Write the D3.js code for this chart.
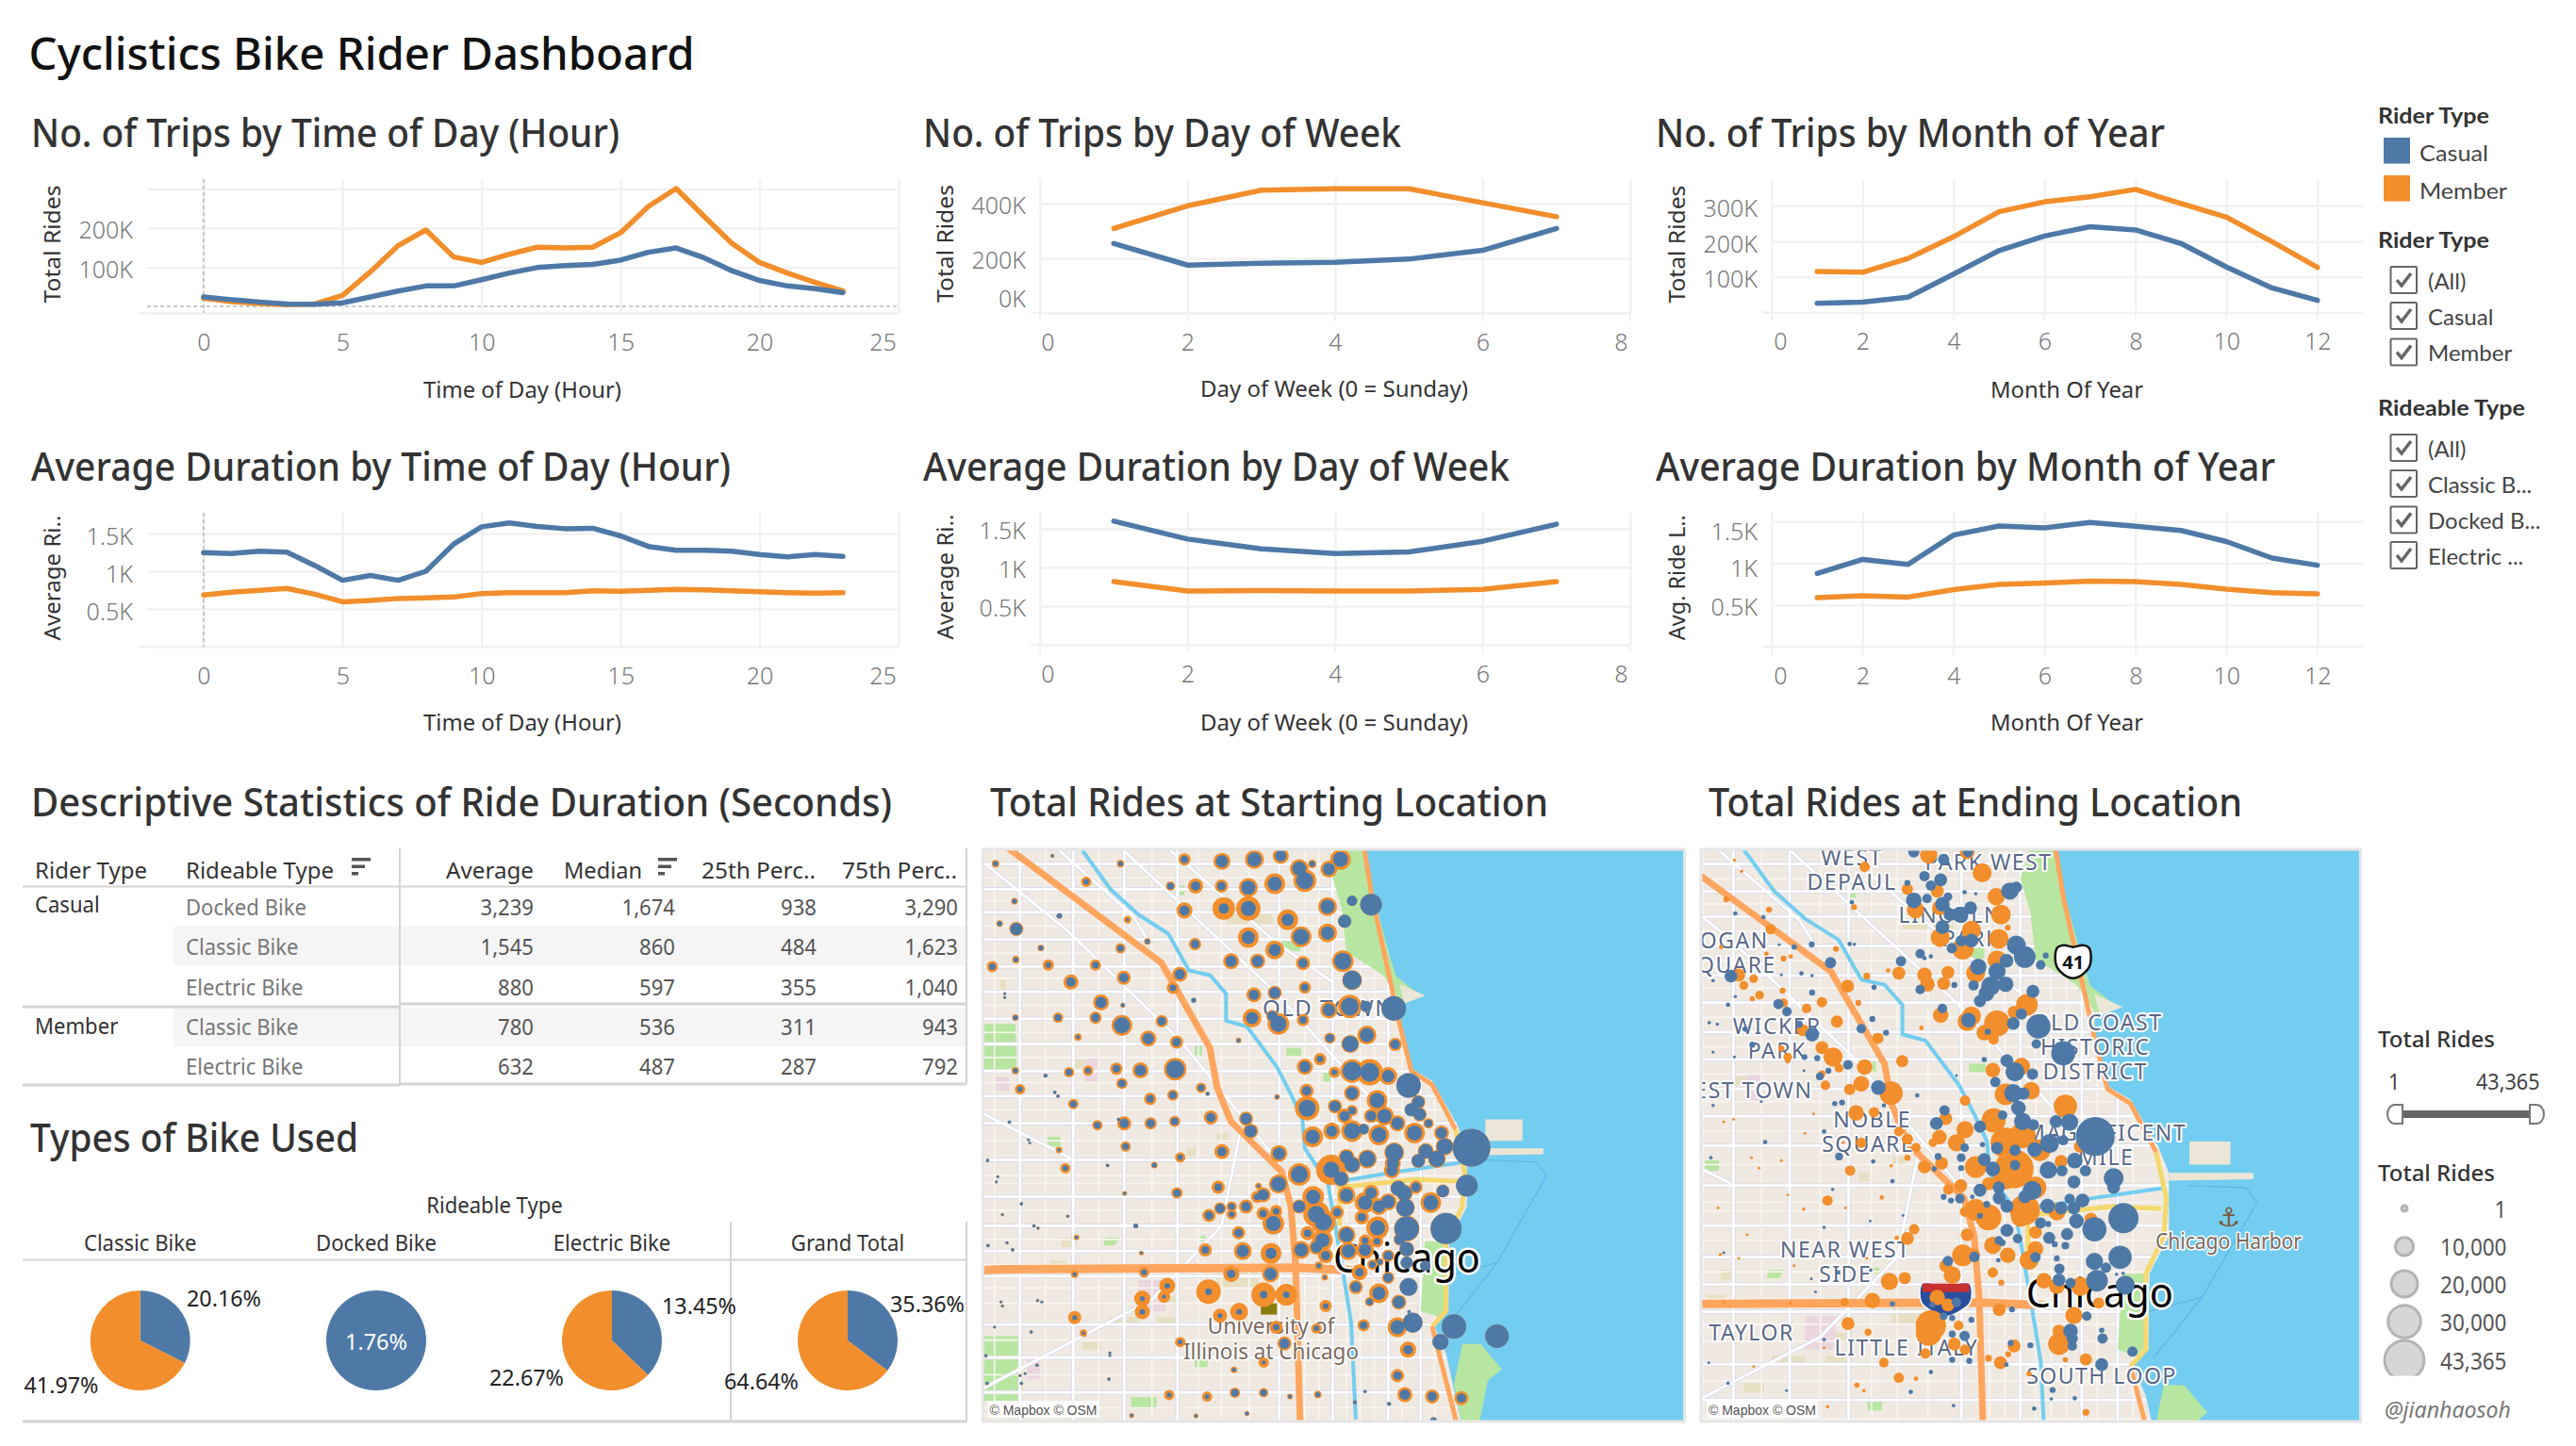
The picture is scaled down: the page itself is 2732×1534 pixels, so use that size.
<!DOCTYPE html>
<html><head><meta charset="utf-8"><script src="https://cdn.jsdelivr.net/npm/d3@7"></script>
<style>html,body{margin:0;padding:0;background:#fff}svg{display:block}text{font-family:"Noto Sans",sans-serif}</style></head>
<body><svg id="c" width="2732" height="1534"></svg>
<script>
// ---------- values ----------
const hours=d3.range(0,24), days=[1,2,3,4,5,6,7], months=d3.range(1,13);
const hourTripsCasual=[24,17,11,6,5,9,24,39,52,52,68,85,99,104,107,118,138,149,124,91,66,52,45,35].map(v=>v*1000);
const hourTripsMember=[21,12,7,4,6,28,88,155,195,126,112,133,151,149,151,188,255,301,230,161,112,85,61,39].map(v=>v*1000);
const hourDurCasual=[1247,1234,1266,1253,1076,880,943,880,1000,1361,1589,1640,1595,1564,1570,1469,1329,1279,1279,1266,1222,1190,1222,1196];
const hourDurMember=[684,722,747,772,696,595,614,639,646,658,703,715,715,715,741,734,747,760,753,741,728,715,709,715];
const dayTripsCasual=[254000,175000,182000,185000,197000,229000,309000];
const dayTripsMember=[309000,392000,449000,454000,454000,403000,352000];
const dayDurCasual=[1599,1367,1240,1179,1201,1339,1560];
const dayDurMember=[816,695,700,695,695,717,816];
const monthTripsCasual=[26,29,43,108,174,215,241,232,194,128,69,34].map(v=>v*1000);
const monthTripsMember=[115,113,152,213,283,311,325,346,306,268,199,127].map(v=>v*1000);
const monthDurCasual=[879,1047,988,1340,1449,1426,1492,1445,1395,1262,1063,977];
const monthDurMember=[586,609,594,684,746,762,785,781,746,688,648,633];
const tableRows=[["Docked Bike","3,239","1,674","938","3,290"],["Classic Bike","1,545","860","484","1,623"],["Electric Bike","880","597","355","1,040"],["Classic Bike","780","536","311","943"],["Electric Bike","632","487","287","792"]];
const pieNames=["Classic Bike","Docked Bike","Electric Bike","Grand Total"];
const pieCasual=[20.16,1.76,13.45,35.36];
const pieMember=[41.97,0,22.67,64.64];
const sizeLegend=[1,10000,20000,30000,43365];
// station grid position (east, south) and rides in hundreds: casual, member
const startStations=[[32,64,6,14],[155,44,3,4],[302,64,6,14],[440,53,14,38],[521,58,38,73],[591,53,50,90],[648,44,32,65],[716,65,8,18],[688,77,50,90],[777,53,57,108],[752,78,38,73],[700,108,73,129],
[228,111,8,27],[410,122,11,22],[464,122,22,57],[520,122,18,44],[578,126,50,90],[635,116,50,108],
[73,161,6,11],[440,185,27,65],[525,180,27,129],[578,180,57,151],[749,175,50,90],[802,160,27,27],[843,170,118,118],
[170,199,8,8],[317,209,3,14],[41,219,6,11],[77,233,38,50],[663,209,38,108],[786,213,44,44],
[578,255,44,108],[692,253,65,108],[749,243,44,90],[360,265,6,11],[463,272,18,38],[130,282,6,11],[302,283,11,27],[635,287,38,90],
[76,312,6,14],[146,326,8,32],[248,326,11,32],[25,330,11,32],[541,316,32,65],[598,316,32,57],[696,321,22,50],[782,316,73,118],[430,350,27,57],[802,365,90,99],
[195,370,22,57],[309,359,22,50],[415,385,11,38],[700,384,14,38],[590,403,27,57],[635,398,32,50],
[52,400,2,2],[52,410,2,2],[260,423,32,65],[307,430,4,6],[460,417,6,6],[752,442,38,73],[797,433,81,140],[832,433,32,32],[892,438,151,151],
[75,462,6,11],[167,462,11,27],[248,462,18,38],[391,471,18,38],[305,482,65,108],[586,463,38,90],[630,458,27,38],[643,478,65,118],[696,468,14,38],
[210,512,4,14],[362,516,32,65],[423,525,18,44],[557,521,4,8],[754,515,18,32],[834,507,50,90],[798,530,65,81],[895,531,22,44],
[733,569,11,38],[75,599,6,14],[140,612,4,4],[191,603,11,27],[232,599,8,27],[293,594,14,38],[345,598,32,65],[420,595,81,129],[700,589,32,65],[764,603,8,32],[802,600,90,140],[840,603,90,176],[880,613,38,81],[924,637,151,151],
[305,632,14,32],[85,647,8,27],[160,655,3,3],[167,665,3,3],[476,643,11,27],[490,659,4,4],[640,667,4,8],[704,651,22,50],[802,657,38,65],[366,672,14,38],[415,662,14,32],
[200,685,11,27],[705,696,73,151],[765,691,32,50],[856,676,57,108],[945,680,38,50],[298,725,3,3],[310,735,22,50],[62,732,3,3],[252,740,11,27],[367,735,18,38],[419,730,14,32],[497,720,22,50],[573,723,32,50],[786,716,27,57],[802,702,14,32],[843,716,27,50],[872,716,50,90],[930,700,44,44],[948,712,38,50],
[583,755,38,57],[900,735,38,65],[967,735,14,27],[717,770,50,108],[758,755,32,73],[802,755,65,118],[827,750,27,32],[860,765,57,108],[937,760,57,108],[995,760,32,57],[103,778,2,2],[106,786,2,2],
[313,795,11,27],[169,804,3,11],[521,808,22,57],[644,813,38,73],[1060,798,358,358],[1002,795,65,81],[893,810,81,99],[790,822,44,65],[961,807,50,65],
[15,831,3,3],[431,823,8,27],[274,844,3,3],[375,843,6,11],[183,851,8,27],[835,827,65,90],[945,832,44,50],[985,827,65,81],[757,855,65,229],[802,842,57,73],[890,838,38,65],[888,857,32,65],[688,867,73,129],
[37,873,2,2],[34,887,2,2],[778,878,50,65],[643,892,57,90],[513,900,14,44],[600,897,3,11],[1050,896,118,118],
[311,916,3,6],[424,915,14,32],[610,920,32,57],[597,925,11,38],[718,925,50,118],[790,921,44,81],[843,915,32,65],[902,903,57,65],[940,900,22,44],[998,910,38,44],[915,915,57,73],
[88,943,3,3],[517,955,22,38],[542,950,11,27],[573,950,22,50],[688,950,38,50],[830,940,50,108],[860,950,38,73],[880,938,44,73],[972,940,57,108],[917,953,81,90],
[47,971,2,3],[188,975,2,3],[493,973,18,44],[542,970,8,27],[610,968,14,44],[638,962,11,38],[770,965,18,44],[725,970,73,176],[823,978,18,50],
[115,1000,3,3],[124,1006,2,3],[335,1000,6,6],[632,994,57,118],[740,990,73,151],[857,1005,57,129],[920,1007,151,163],[1005,1007,244,244],
[207,1030,3,8],[557,1018,18,44],[706,1019,14,50],[790,1023,50,81],[738,1037,50,108],[830,1038,11,38],[856,1040,11,38],[905,1035,32,38],
[57,1044,2,3],[16,1051,3,3],[69,1062,3,3],[485,1062,14,44],[566,1065,38,81],[627,1071,32,108],[692,1062,44,81],[725,1055,32,57],[794,1065,44,81],[830,1062,38,81],[920,1060,50,57],
[347,1070,2,6],[745,1077,22,57],[880,1077,22,38],[730,1103,6,18],[846,1100,11,27],[862,1093,8,14],[920,1095,38,38],[960,1103,27,27],
[203,1125,4,14],[353,1120,8,27],[541,1124,18,65],[626,1124,38,73],[818,1120,18,65],[743,1133,3,11],[880,1134,22,38],
[403,1155,8,65],[492,1170,11,151],[611,1178,14,151],[660,1178,11,118],[810,1158,27,50],[860,1174,44,99],[924,1158,81,81],
[349,1188,6,65],[396,1183,4,38],[123,1193,2,3],[132,1197,2,2],[44,1197,2,2],[47,1207,2,3],[840,1196,11,22],[903,1197,38,57],[745,1207,8,38],
[349,1222,8,57],[203,1237,6,44],[517,1232,6,50],[558,1222,8,81],[925,1222,3,3],[933,1250,99,99],[900,1262,50,99],[1022,1260,151,151],[827,1257,14,38],[638,1262,11,44],[725,1265,8,27],
[30,1262,2,2],[222,1277,3,14],[109,1274,3,3],[993,1300,65,65],[1115,1285,140,140],[431,1300,6,27],[656,1304,27,50],[279,1335,2,2],[279,1328,2,2],[923,1320,22,65],
[11,1336,3,3],[122,1360,3,3],[611,1353,4,27],[547,1372,4,11],[900,1387,18,44],[277,1396,3,3],[96,1382,2,2],[85,1387,2,3],[88,1407,3,3],[14,1407,3,3],
[407,1437,6,27],[489,1441,6,27],[549,1431,14,27],[611,1431,11,22],[668,1441,4,8],[728,1436,6,14],[830,1428,3,3],[808,1456,4,4],[882,1460,4,4],[916,1436,27,57],[975,1441,22,50],[1038,1445,22,50],[575,1485,4,6],[465,1491,3,6],[326,1490,3,6],[978,1503,11,11]];
// ending stations: east, south, rides in hundreds
const endMember=[[370,50,27],[645,66,91],[520,18,75],[610,10,54],[65,32,3],[82,62,3],[470,110,32],[540,115,42],[678,130,75],[489,165,75],[545,160,54],[689,178,99],[46,137,9],[146,165,9],[345,158,9],[150,217,27],[705,213,9],
[620,220,91],[547,240,91],[684,243,99],[600,270,118],[303,270,9],[34,265,5],[180,296,9],[197,290,5],[140,283,5],[680,300,91],[630,335,91],[565,333,42],[510,340,54],[450,335,42],[425,328,5],[375,343,12],[517,365,54],[555,363,42],[330,370,42],[75,340,42],[87,368,19],[110,350,19],[124,394,19],[107,404,7],[178,382,9],[270,413,27],[234,430,23],[180,415,19],[355,415,9],[750,420,118],[720,440,42],[548,448,61],[620,450,91],[610,465,91],[680,470,169],[650,495,61],[672,513,27],[305,465,37],[225,488,37],[190,560,19],[175,537,9],[270,535,42],[296,560,91],[310,590,19],[190,570,7],[401,510,32],[420,497,3],[503,482,5],[370,587,61],[458,571,37],[270,605,12],[278,636,23],[362,632,61],[335,647,32],[432,657,137],[737,585,75],[670,595,54],[760,650,75],[700,660,118],[605,677,27],[840,692,137],[350,710,61],[392,708,27],[672,730,147],[560,725,42],[605,755,75],[450,760,23],[470,780,32],[490,803,23],[545,775,54],[585,790,75],[530,790,19],[362,790,27],[875,800,42],[510,855,42],[550,845,42],[470,830,9],[336,865,27],[630,855,118],[700,790,230],[740,770,169],[720,860,381],[780,810,118],[830,840,42],[770,910,118],[700,880,169],[595,905,42],[566,915,27],[283,945,27],[660,900,42],[630,970,118],[660,990,169],[605,975,27],[745,970,230],[820,975,75],[735,990,91],[900,995,42],[486,1022,27],[470,1047,42],[610,1037,42],[670,1065,75],[705,1092,61],[600,1092,118],[625,1090,42],[770,1030,42],[770,1075,61],[755,1105,91],[560,1120,42],[575,1145,75],[428,1162,75],[464,1153,37],[670,1138,27],[690,1165,9],[790,1160,61],[820,1175,61],[875,1175,91],[918,1220,32],[388,1213,61],[323,1217,15],[540,1205,61],[565,1225,42],[685,1238,42],[860,1253,75],[331,1275,42],[378,1298,12],[525,1280,230],[520,1300,169],[590,1280,23],[720,1335,42],[825,1330,118],[825,1295,42],[660,1368,12],[688,1380,42],[706,1357,9],[888,1371,37],[605,1345,27],[580,1330,42],[512,1355,27],[415,1380,23],[840,1372,7],[450,1420,27],[490,1423,5],[352,1440,7],[368,1455,3],[888,1513,12],[283,1498,3],[755,1410,7],
[63,727,2],[40,734,2],[105,830,2],[123,858,2],[175,838,2],[250,713,2],[230,765,2],[320,790,2],[432,852,3],[410,937,5],[190,930,2],[227,968,3],[325,965,2],[27,965,2],[95,1037,2],[32,1090,3],[75,1100,2],[205,1120,2],[197,1220,2],[40,1218,2],[275,1340,2],[110,1390,2],[445,1045,5],[375,1100,2],[385,1130,2]];
const endCasual=[[485,10,32],[555,30,32],[612,10,27],[510,75,27],[548,85,42],[525,100,27],[470,93,9],[604,118,5],[630,122,3],[710,115,75],[725,105,32],[485,140,61],[516,135,23],[565,130,19],[552,150,54],[618,160,42],[570,178,42],[592,178,61],[340,145,5],[67,175,5],[133,185,5],[552,212,48],[620,248,48],[596,248,32],[574,268,27],[725,260,91],[745,292,118],[782,313,23],[794,288,9],[500,283,23],[510,295,5],[455,303,27],[525,290,5],[702,302,48],[636,318,68],[680,330,75],[700,365,61],[665,370,91],[655,390,61],[640,410,37],[625,368,27],[764,384,42],[500,379,23],[580,367,9],[392,373,7],[290,307,32],[246,258,9],[205,265,7],[335,257,5],[346,258,3],[170,259,2],[222,336,5],[247,342,3],[57,343,42],[15,355,3],[175,340,2],[247,387,9],[50,420,5],[67,398,3],[168,418,27],[188,438,23],[552,430,23],[388,458,9],[362,484,23],[420,495,9],[613,461,54],[737,445,32],[718,470,42],[658,492,9],[777,478,147],[772,525,23],[835,550,147],[6,468,3],[25,472,3],[90,485,7],[217,472,12],[247,500,48],[107,527,9],[229,560,9],[259,563,9],[15,547,2],[331,581,23],[285,597,9],[265,612,15],[228,597,2],[402,642,54],[676,627,27],[703,570,42],[722,600,91],[763,606,32],[650,567,7],[585,610,2],[718,657,83],[742,658,37],[730,697,54],[493,663,5],[557,703,27],[538,738,42],[640,747,37],[693,716,23],[740,733,75],[765,742,32],[818,733,42],[850,735,75],[910,773,381],[803,792,91],[835,783,27],[604,803,19],[680,804,37],[646,795,7],[768,808,54],[722,810,32],[722,850,27],[650,835,42],[670,860,54],[596,830,19],[542,827,12],[533,860,7],[596,858,9],[862,838,61],[887,865,32],[800,863,75],[832,865,32],[860,895,42],[953,885,99],[953,910,42],[762,918,91],[745,935,42],[684,910,37],[640,917,42],[685,938,42],[703,960,42],[656,955,12],[622,935,5],[555,935,9],[572,945,9],[593,940,23],[798,960,54],[830,965,42],[850,940,27],[880,945,48],[860,965,42],[976,992,230],[908,1022,147],[866,1000,54],[782,1005,32],[800,1008,9],[640,986,9],[703,1025,42],[844,1035,37],[728,1047,23],[684,1052,19],[692,1058,12],[802,1045,37],[815,1062,9],[840,1066,15],[968,1097,137],[908,1108,75],[935,1125,27],[820,1100,9],[826,1128,27],[770,1097,27],[683,1105,5],[627,1096,27],[565,1107,27],[914,1160,118],[980,1172,91],[825,1158,42],[852,1166,27],[960,1143,3],[975,1140,3],[245,1155,2],[308,1138,5],[384,1132,3],[890,1255,23],[715,1237,9],[585,1218,23],[555,1255,15],[528,1225,9],[620,1265,9],[575,1260,9],[435,1222,7],[255,1190,2],[575,1303,12],[604,1308,27],[852,1295,54],[856,1315,32],[856,1335,23],[925,1293,7],[927,1315,27],[712,1327,9],[758,1333,9],[997,1350,27],[575,1372,9],[615,1375,9],[925,1385,42],[275,1318,3],[702,1385,5],[525,1405,5],[810,1453,9],[807,1477,3],[478,1458,5],[862,1475,5],[578,1495,3],[767,1503,5],[50,1435,3],[187,1455,2],[137,788,5],[10,830,3],[5,1380,2],[390,840,5],[310,827,15],[275,760,5],[300,685,7],[317,682,9],[415,690,5],[128,680,2],[65,560,2],[15,690,3],[435,893,5],[295,915,3],[460,985,2],[275,1017,3],[383,1000,2],[40,1085,2]];
// base map, in the same east/south grid as the starting stations
const lakeShore=[[825,0],[842,130],[880,290],[905,405],[905,490],[925,590],[975,625],[1030,740],[1050,800],[1050,950],[1012,1040],[1010,1220],[980,1260],[1005,1330],[1040,1520],[1600,1520],[1600,0]];
const parks=[[[785,0],[825,0],[845,130],[880,290],[897,355],[950,405],[912,428],[870,352],[790,292],[780,180],[760,100]],[[960,1040],[1008,1040],[1008,1200],[990,1235],[950,1220]],[[1040,1305],[1080,1305],[1125,1370],[1095,1400],[1075,1520],[1040,1520],[1022,1410]],[[5,478],[75,478],[78,592],[5,600]],[[5,1285],[90,1285],[90,1452],[5,1452]],[[145,770],[172,770],[172,795],[145,795]],[[462,525],[478,525],[478,560],[462,560]],[[660,540],[692,540],[692,560],[660,560]],[[740,600],[755,600],[755,630],[740,630]],[[325,1443],[380,1443],[380,1472],[325,1472]],[[420,120],[440,120],[440,145],[420,145]],[[650,260],[690,260],[690,290],[650,290]],[[462,1340],[490,1340],[490,1365],[462,1365]],[[270,1030],[300,1030],[290,1050],[265,1050]],[[120,1125],[145,1125],[145,1135],[120,1135]],[[475,1025],[485,1025],[485,1040],[475,1040]]];
const blocks=[[[530,190],[630,190],[630,220],[530,220]],[[275,1235],[340,1235],[340,1255],[275,1255]],[[380,1235],[430,1235],[430,1260],[380,1260]],[[175,1030],[200,1030],[200,1055],[175,1055]],[[510,1120],[600,1120],[600,1160],[510,1160]],[[42,365],[55,365],[55,392],[42,392]],[[510,760],[535,760],[535,780],[510,780]],[[445,800],[465,800],[465,820],[445,820]],[[200,570],[225,570],[225,592],[200,592]],[[400,1180],[430,1180],[430,1200],[400,1200]],[[220,1300],[260,1300],[260,1320],[220,1320]],[[150,1090],[185,1090],[185,1105],[150,1105]]];
const pinks=[[[225,565],[253,565],[253,630],[225,630]],[[30,615],[62,615],[62,650],[30,650]],[[340,1140],[400,1140],[400,1220],[340,1220]],[[100,1335],[128,1335],[128,1395],[100,1395]]];
const piers=[[[1090,725],[1170,725],[1170,780],[1090,780]],[[1050,800],[1215,800],[1215,815],[1050,818]],[[905,375],[960,405],[915,425]]];
const streetEast=[85,200,310,425,645,760,880,950];
const streetSouth=[65,130,190,260,330,395,465,530,600,665,735,830,925,1000,1065,1130,1255,1340,1430];
const minorEast=[30,140,255,370,470,520,580,700,730,790,820,850,910,980];
const minorSouth=[100,160,225,295,360,430,500,565,630,700,780,870,890,960,1035,1100,1160,1200,1295,1385,1470];
const diagonals=[[[300,20],[640,400],[880,720]],[[5,60],[190,240],[430,520],[640,830]],[[5,710],[195,825]],[[5,1420],[370,1190],[520,1000],[560,760]],[[160,20],[330,200],[360,260]],[[400,20],[640,270],[760,370]]];
const rivers=[[[220,30],[280,130],[340,195],[405,245],[450,340],[495,352],[530,400],[530,470],[575,485],[640,590]],[[640,590],[670,660],[695,725],[700,800],[750,890],[780,1100],[800,1250],[810,1500]],[[750,890],[900,860],[1045,835]]];
const harborLines=[[[1085,830],[1200,835],[1222,870],[1115,1095],[1020,1240]],[[1115,1095],[1010,1130]]];
const expressways=[[[55,20],[390,320],[495,540],[510,640],[540,730],[650,860],[670,950],[680,1100],[690,1520]]];
const ike=[[[-100,1120],[50,1112],[680,1108],[810,1115]]];
const shoreDriveN=[[[825,0],[845,150],[905,480],[930,600],[975,635],[1025,750]],[[975,1260],[1030,1520]]];
const shoreDriveY=[[[1025,750],[1045,860],[1040,950],[1005,1040],[1005,1220],[975,1260]],[[775,1000],[775,900],[940,880],[1035,885]]];

// ---------- drawing ----------
const svg=d3.select("#c");
const BLUE="#4e79a7",ORANGE="#f28e2b";
function T(p,o){
  const t=p.append("text").text(o.t).attr("x",o.x).attr("y",o.y)
    .attr("font-size",o.s||24).attr("fill",o.c||"#333").attr("font-weight",o.b||400)
    .attr("text-anchor",o.a||"start").attr("dominant-baseline",o.base?"auto":"central");
  if(o.f)t.style("font-family",o.f);
  if(o.i)t.attr("font-style","italic");
  if(o.ls)t.attr("letter-spacing",o.ls);
  if(o.r)t.attr("transform",`rotate(${o.r} ${o.x} ${o.y})`);
  if(o.h)t.attr("stroke","#fff").attr("stroke-width",o.h).attr("paint-order","stroke").attr("stroke-linejoin","round");
  if(o.w)t.attr("textLength",o.w).attr("lengthAdjust","spacingAndGlyphs");
  else if(o.k)t.attr("textLength",t.node().getComputedTextLength()*o.k).attr("lengthAdjust","spacingAndGlyphs");
  return t;
}
T(svg,{t:"Cyclistics Bike Rider Dashboard",x:30.6,y:74,s:48,w:706,c:"#111",b:500,base:1});
const heads=[["No. of Trips by Time of Day (Hour)",33,155.6,624],["No. of Trips by Day of Week",979,155.6,507],["No. of Trips by Month of Year",1756,155.6,540],
["Average Duration by Time of Day (Hour)",33,510,742],["Average Duration by Day of Week",979,510,622],["Average Duration by Month of Year",1756,510,657],
["Descriptive Statistics of Ride Duration (Seconds)",33,866,913],["Total Rides at Starting Location",1050,866,592],["Total Rides at Ending Location",1812,866,566],["Types of Bike Used",32,1222,348]];
heads.forEach(h=>T(svg,{t:h[0],x:h[1],y:h[2],s:42,w:h[3],c:"#333",b:500,base:1}));

function chart(o){
  const g=svg.append("g");
  const x=d3.scaleLinear().domain(o.xd).range([o.l,o.r]);
  const y=d3.scaleLinear().domain(o.yd).range([o.b,o.t]);
  const gx=g.append("g").attr("transform",`translate(0,${o.b})`)
    .call(d3.axisBottom(x).tickValues(o.xt).tickSize(-(o.b-o.t)).tickPadding(22).tickFormat(d3.format("d")));
  const gy=g.append("g").attr("transform",`translate(${o.l},0)`)
    .call(d3.axisLeft(y).tickValues(o.yt).tickSize(-(o.r-o.l)).tickPadding(15).tickFormat(o.yf));
  [gx,gy].forEach(a=>{a.select(".domain").remove();
    a.selectAll("line").attr("stroke","#f1f1f1").attr("stroke-width",2.5);
    a.selectAll("text").attr("fill","#777").attr("font-size",25).attr("font-weight",300).style("font-family",'"Noto Sans"');});
  gx.selectAll(".tick text").attr("dy","0.71em");
  gx.selectAll(".tick text").attr("dx",d=>d===o.xd[0]&&o.shift?o.shift:(o.endShift&&d===o.xt[o.xt.length-1]?o.endShift:0));
  gy.selectAll(".tick text").attr("transform",d=>`translate(0,${3+((o.ydy&&o.ydy[d])||0)})`);
  if(o.stub) g.append("g").selectAll("line").data(o.xt).join("line").attr("x1",d=>x(d)).attr("x2",d=>x(d)).attr("y1",o.b).attr("y2",o.b+9).attr("stroke","#f1f1f1").attr("stroke-width",2);
  g.append("line").attr("x1",o.l-10).attr("x2",o.l).attr("y1",o.b).attr("y2",o.b).attr("stroke","#f1f1f1").attr("stroke-width",2.5);
  if(o.vz) g.append("line").attr("x1",x(0)).attr("x2",x(0)).attr("y1",o.t).attr("y2",o.b).attr("stroke","#bbb").attr("stroke-width",1.6).attr("stroke-dasharray","4 3");
  if(o.hz) g.append("line").attr("x1",o.l).attr("x2",o.r).attr("y1",y(0)).attr("y2",y(0)).attr("stroke","#bbb").attr("stroke-width",1.6).attr("stroke-dasharray","4 3");
  const line=d3.line().x(d=>x(d[0])).y(d=>y(d[1]));
  o.series.forEach(s=>g.append("path").attr("d",line(o.xs.map((v,i)=>[v,s.v[i]]))).attr("fill","none").attr("stroke",s.c).attr("stroke-width",5.5).attr("stroke-linejoin","round").attr("stroke-linecap","round"));
  T(g,{t:o.yl,x:o.ylx,y:(o.t+o.b)/2-2,s:24,a:"middle",r:-90,w:o.ylw,c:"#333"});
  T(g,{t:o.xl,x:o.xlx,y:o.xly,s:24,a:"middle",w:o.xlw,c:"#333"});
}
const fK=d=>d===0?"0K":(d/1000)+"K";
const show=(arr,f)=>d=>arr.includes(d)?f(d):"";
const durLabel=show([500,1000,1500],d=>(d/1000)+"K");
chart({l:156,r:953,t:190,b:332,xd:[-2.03,25],yd:[-17000,325000],xt:[0,5,10,15,20,25],yt:[-17000,100000,200000,300000],yf:show([100000,200000],fK),xs:hours,series:[{v:hourTripsMember,c:ORANGE},{v:hourTripsCasual,c:BLUE}],vz:1,hz:1,endShift:-17,yl:"Total Rides",ylx:54,ylw:125,xl:"Time of Day (Hour)",xlx:554,xly:412,xlw:210});
chart({l:156,r:953,t:544,b:686,xd:[-2.03,25],yd:[0,1775],xt:[0,5,10,15,20,25],yt:[0,500,1000,1500],yf:durLabel,xs:hours,series:[{v:hourDurCasual,c:BLUE},{v:hourDurMember,c:ORANGE}],vz:1,endShift:-17,yl:"Average Ri..",ylx:54,ylw:133,xl:"Time of Day (Hour)",xlx:554,xly:765,xlw:210});
chart({l:1103,r:1729,t:189,b:332,xd:[0,8],yd:[0,493000],xt:[0,2,4,6,8],yt:[0,200000,400000],yf:fK,ydy:{0:-18},xs:days,series:[{v:dayTripsMember,c:ORANGE},{v:dayTripsCasual,c:BLUE}],shift:8,endShift:-10,stub:1,yl:"Total Rides",ylx:1001.5,ylw:125,xl:"Day of Week (0 = Sunday)",xlx:1415,xly:411,xlw:284});
chart({l:1103,r:1729,t:544,b:684,xd:[0,8],yd:[0,1707],xt:[0,2,4,6,8],yt:[0,500,1000,1500],yf:durLabel,xs:days,series:[{v:dayDurCasual,c:BLUE},{v:dayDurMember,c:ORANGE}],shift:8,endShift:-10,stub:1,yl:"Average Ri..",ylx:1001.5,ylw:133,xl:"Day of Week (0 = Sunday)",xlx:1415,xly:765,xlw:284});
chart({l:1879,r:2506,t:190.7,b:331.5,xd:[0,13],yd:[0,373000],xt:[0,2,4,6,8,10,12],yt:[0,100000,200000,300000],yf:show([100000,200000,300000],fK),xs:months,series:[{v:monthTripsMember,c:ORANGE},{v:monthTripsCasual,c:BLUE}],shift:9,stub:1,yl:"Total Rides",ylx:1778,ylw:125,xl:"Month Of Year",xlx:2192,xly:412,xlw:162});
chart({l:1879,r:2506,t:543.6,b:685.8,xd:[0,13],yd:[0,1612],xt:[0,2,4,6,8,10,12],yt:[0,500,1000,1500],yf:durLabel,ydy:{1500:8,1000:3},xs:months,series:[{v:monthDurCasual,c:BLUE},{v:monthDurMember,c:ORANGE}],shift:9,stub:1,yl:"Avg. Ride L..",ylx:1778,ylw:133,xl:"Month Of Year",xlx:2192,xly:765,xlw:162});

// ---------- table ----------
const tb=svg.append("g");
const rowTop=[940.5,982.7,1024,1069,1110],rowBot=[982.7,1024,1065,1110,1150];
[1,3].forEach(i=>{tb.append("rect").attr("x",184).attr("width",240).attr("y",rowTop[i]).attr("height",rowBot[i]-rowTop[i]).attr("fill","#f5f5f5");
 tb.append("rect").attr("x",425).attr("width",600).attr("y",rowTop[i]).attr("height",rowBot[i]-rowTop[i]).attr("fill","#f5f5f5");});
const rule=(p,x1,y1,x2,y2,w,c)=>p.append("line").attr("x1",x1).attr("y1",y1).attr("x2",x2).attr("y2",y2).attr("stroke",c||"#d4d4d4").attr("stroke-width",w||2);
rule(tb,24,940.5,1025,940.5);rule(tb,24,1068,424,1068,3);rule(tb,424,1065,1025,1065,3);rule(tb,24,1151,424,1151,3);rule(tb,424,1150,1025,1150,3);rule(tb,424,900,424,1151);rule(tb,1025,900,1025,1150);
const headY=922,kt=0.92;
T(tb,{t:"Rider Type",x:37,y:headY,w:119});T(tb,{t:"Rideable Type",x:197,y:headY,w:157});
T(tb,{t:"Average",x:566,y:headY,a:"end",w:93});T(tb,{t:"Median",x:681,y:headY,a:"end",w:83});T(tb,{t:"25th Perc..",x:865,y:headY,a:"end",w:121});T(tb,{t:"75th Perc..",x:1015,y:headY,a:"end",w:122});
[373,698].forEach(x0=>[20,14,7].forEach((w,i)=>tb.append("rect").attr("x",x0).attr("y",910+i*7.5).attr("width",w).attr("height",3.5).attr("fill","#555")));
const rowY=[961,1003,1046,1088.5,1130],cols=[566,716,866,1016];
T(tb,{t:"Casual",x:37,y:958,k:kt});T(tb,{t:"Member",x:37,y:1087,k:kt});
tableRows.forEach((r,i)=>{T(tb,{t:r[0],x:197,y:rowY[i],c:"#777",k:kt});r.slice(1).forEach((v,j)=>T(tb,{t:v,x:cols[j],y:rowY[i],a:"end",c:"#555",k:kt}));});

// ---------- pies ----------
const pg=svg.append("g");
T(pg,{t:"Rideable Type",x:524.5,y:1277,a:"middle",k:kt});
const pieX=[148.7,399,649,899];
pieNames.forEach((n,i)=>T(pg,{t:n,x:pieX[i],y:1317,a:"middle",k:kt}));
rule(pg,24,1336.5,1025,1336.5);rule(pg,775,1296,775,1508);rule(pg,1025,1296,1025,1508);rule(pg,24,1508,1025,1508,3);
const pie=d3.pie().sort(null),arc=d3.arc().innerRadius(0).outerRadius(53);
pieNames.forEach((n,i)=>{const gp=pg.append("g").attr("transform",`translate(${pieX[i]},1422)`);
  gp.selectAll("path").data(pie([pieCasual[i],pieMember[i]])).join("path").attr("d",arc).attr("fill",(d,j)=>j?ORANGE:BLUE);});
const fmtP=v=>v.toFixed(2)+"%";
[[0,198,1376.5],[2,702,1384.5],[3,944,1383]].forEach(a=>T(pg,{t:fmtP(pieCasual[a[0]]),x:a[1],y:a[2],s:23,w:79,c:"#222"}));
[[0,25.5,1468.5],[2,519,1460.5],[3,768,1464.5]].forEach(a=>T(pg,{t:fmtP(pieMember[a[0]]),x:a[1],y:a[2],s:23,w:79,c:"#222"}));
T(pg,{t:fmtP(pieCasual[1]),x:399,y:1423,s:23,a:"middle",c:"#fff",w:66});

// ---------- maps ----------
const rScale=d3.scaleSqrt().domain([0,433.65]).range([0,22]);
function baseMap(g,x,y,box){
  const ln=d3.line().x(d=>x(d[0])).y(d=>y(d[1]));
  const poly=(arr,c)=>g.append("g").selectAll("path").data(arr).join("path").attr("d",d=>ln(d)+"Z").attr("fill",c);
  const lines=(arr,c,w)=>g.append("g").selectAll("path").data(arr).join("path").attr("d",ln).attr("fill","none").attr("stroke",c).attr("stroke-width",w).attr("stroke-linejoin","round");
  g.append("rect").attr("x",box[0]).attr("y",box[1]).attr("width",box[2]-box[0]).attr("height",box[3]-box[1]).attr("fill","#efe9e1");
  poly(parks,"#b7e6a0");poly(blocks,"#e6dfc2");poly(pinks,"#ecd6de");
  const v=(list,a)=>list.map(e=>[[e,a[0]],[e,a[1]]]),h=(list,a)=>list.map(s=>[[a[0],s],[a[1],s]]);
  const minor=v(minorEast,[0,1520]).concat(h(minorSouth,[-100,1100]));
  lines(minor,"#f9f6f2",1.6);
  const main=v(streetEast,[0,1520]).concat(h(streetSouth,[-100,1100]),diagonals);
  lines(main,"#d8d9ea",4.4);lines(main,"#ffffff",2.8);
  lines(rivers,"#73cdf0",4);
  poly([lakeShore],"#73cdf0");poly(parks.slice(0,3),"#b7e6a0");poly(piers,"#ece6d6");
  lines(harborLines,"#5fb4e8",1.2);
  lines(shoreDriveY,"#f6d86e",5);lines(shoreDriveN,"#ffa55e",5);lines(ike,"#ffa55e",9);lines(expressways,"#ffa55e",7);
}
function labels(g,list){list.forEach(l=>T(g,{t:l[0],x:l[1],y:l[2],s:l[3],a:"middle",c:l[4]||"#5a6888",ls:l[5]===undefined?1.5:l[5],h:l[6]||4,w:l[7]}));}
function credit(g,x,y){g.append("rect").attr("x",x).attr("y",y).attr("width",118).attr("height",18).attr("fill","#fff").attr("fill-opacity",.9);T(g,{t:"© Mapbox © OSM",x:x+2,y:y+9.5,s:14.5,c:"#555",f:"Liberation Sans",w:114});}
function frame(g,x0,y0,x1,y1){g.append("rect").attr("x",x0).attr("y",y0).attr("width",x1-x0).attr("height",y1-y0).attr("fill","none").attr("stroke","#e6e6e6").attr("stroke-width",3);}
const defs=svg.append("defs");
function clip(id,x0,y0,x1,y1){defs.append("clipPath").attr("id",id).append("rect").attr("x",x0).attr("y",y0).attr("width",x1-x0).attr("height",y1-y0);}
// starting map
clip("m1",1042.5,901,1785.6,1507);
const m1=svg.append("g").attr("clip-path","url(#m1)");
const sx=d3.scaleLinear().domain([5,1518]).range([1042.5,1785.6]),sy=d3.scaleLinear().domain([27,1503]).range([901,1507]);
baseMap(m1,sx,sy,[1042.5,901,1785.6,1507]);
labels(m1,[["OLD TOWN",sx(750),sy(435),24],["Chicago",sx(920),sy(1080),43,"#000",0,5,156],["University of",sx(627),sy(1256),24,"#7b6a5e",0,3,135],["Illinois at Chicago",sx(627),sy(1322),24,"#7b6a5e",0,3,186]]);
m1.append("rect").attr("x",sx(605)).attr("y",sy(1200)).attr("width",17).attr("height",12).attr("fill","#8a7d10");
m1.append("g").selectAll("circle").data(startStations).join("circle").attr("cx",d=>sx(d[0])).attr("cy",d=>sy(d[1])).attr("r",d=>rScale(d[3])).attr("fill",ORANGE);
m1.append("g").selectAll("circle").data(startStations).join("circle").attr("cx",d=>sx(d[0])).attr("cy",d=>sy(d[1])).attr("r",d=>rScale(d[2])).attr("fill",BLUE);
credit(m1,1047.5,1486);frame(svg,1042.5,901,1786.5,1508);
// ending map
clip("m2",1804,901,2503,1507);
const m2=svg.append("g").attr("clip-path","url(#m2)");
const bx=d3.scaleLinear().domain([148,1423]).range([1810,2503]),by=d3.scaleLinear().domain([30,1389]).range([901,1507]);
const ex=d3.scaleLinear().domain([0,1530]).range([1810,2503]),ey=d3.scaleLinear().domain([3,1535]).range([901,1507]);
baseMap(m2,bx,by,[1804,901,2503,1507]);
labels(m2,["WEST|340|22","DEPAUL|340|88","PARK WEST|660|35","LOGAN|50|245","SQUARE|55|312","WICKER|165|475","PARK|165|542","WEST TOWN|85|647","LINCOLN|570|178","PARK|620|240","NOBLE|388|725","SQUARE|378|793","OLD COAST|915|465","HISTORIC|910|532","DISTRICT|910|598","MAGNIFICENT|935|762","MILE|935|828","NEAR WEST|325|1075","SIDE|325|1140","TAYLOR|105|1298","LITTLE ITALY|468|1338","SOUTH LOOP|925|1413"].map(s=>{const p=s.split("|");return [p[0],ex(+p[1]),ey(+p[2]),23];}));
labels(m2,[["Chicago Harbor",ex(1222),ey(1052),23,"#7b6a5e",0,3,155],["Chicago",ex(920),ey(1190),43,"#000",0,5,156]]);
T(m2,{t:"⚓",x:ex(1222),y:ey(990),s:28,a:"middle",c:"#7b5a3c",f:"DejaVu Sans"});
const sh=m2.append("g").attr("transform",`translate(${ex(858)},${ey(303)})`);
sh.append("path").attr("d",d3.line().curve(d3.curveCatmullRomClosed)([[-17,-14],[-10,-17],[0,-15],[10,-17],[17,-14],[18,4],[10,14],[0,18],[-10,14],[-18,4]])).attr("fill","#fff").attr("stroke","#111").attr("stroke-width",2.5);
T(sh,{t:"41",x:0,y:1,s:20,a:"middle",c:"#111",b:700});
const ish=m2.append("g").attr("transform",`translate(${ex(560)},${ey(1208)})`);
ish.append("path").attr("d",d3.line().curve(d3.curveCatmullRomClosed)([[-25,-16],[0,-14],[25,-16],[26,4],[12,15],[0,19],[-12,15],[-26,4]])).attr("fill","#2a4f9e").attr("stroke","#fff").attr("stroke-width",1.5);
ish.append("rect").attr("x",-25).attr("y",-16).attr("width",50).attr("height",9).attr("fill","#c8312f");
m2.append("g").selectAll("circle").data(endMember).join("circle").attr("cx",d=>ex(d[0])).attr("cy",d=>ey(d[1])).attr("r",d=>rScale(d[2])).attr("fill",ORANGE);
m2.append("g").selectAll("circle").data(endCasual).join("circle").attr("cx",d=>ex(d[0])).attr("cy",d=>ey(d[1])).attr("r",d=>rScale(d[2])).attr("fill",BLUE);
credit(m2,1810,1486);frame(svg,1804,901,2503.5,1508);

// ---------- right-hand legends ----------
const lg=svg.append("g"),LF="Lato";
T(lg,{t:"Rider Type",x:2522,y:122,s:23,b:700,f:LF,w:118});
[["Casual",BLUE,160],["Member",ORANGE,200]].forEach(a=>{lg.append("rect").attr("x",2528).attr("y",a[2]-14).attr("width",28).attr("height",27.6).attr("fill",a[1]);T(lg,{t:a[0],x:2566,y:a[2]+1,s:24,f:LF,w:a[0]=="Casual"?73:93,c:"#444"});});
function checks(list,ys){list.forEach((t,i)=>{const y=ys[i];
  lg.append("rect").attr("x",2535.5).attr("y",y-14).attr("width",27.5).attr("height",28).attr("fill","#fff").attr("stroke","#666").attr("stroke-width",2).attr("rx",1);
  lg.append("path").attr("d",d3.line()([[2542,y],[2547,y+6],[2557,y-7]])).attr("fill","none").attr("stroke","#666").attr("stroke-width",3.5);
  T(lg,{t:t,x:2575,y:y,s:24,f:LF,c:"#444"});});}
T(lg,{t:"Rider Type",x:2522,y:254,s:23,b:700,f:LF,w:118});
checks(["(All)","Casual","Member"],[297,335,373.6]);
T(lg,{t:"Rideable Type",x:2522,y:432,s:23,b:700,f:LF,w:156});
checks(["(All)","Classic B...","Docked B...","Electric ..."],[475,513,551.4,589]);
T(svg,{t:"Total Rides",x:2522,y:1101,s:24,w:124,b:500});
T(svg,{t:"1",x:2533,y:1146.7,s:24,c:"#444",k:.9});
T(svg,{t:"43,365",x:2693.6,y:1146.7,s:24,a:"end",c:"#444",k:.9});
rule(svg,2546,1182,2686,1182,8,"#666");
svg.append("path").attr("d","M2548,1172 h-8 a8,10 0 0 0 0,20 h8 Z").attr("fill","#fff").attr("stroke","#777").attr("stroke-width",2);
svg.append("path").attr("d","M2683,1172 h7 a8,10 0 0 1 0,20 h-7 Z").attr("fill","#fff").attr("stroke","#777").attr("stroke-width",2);
T(svg,{t:"Total Rides",x:2522,y:1243,s:24,w:124,b:500});
const lgY=[1282,1322.4,1362,1402,1443];
clip("sz",2510,1260,2590,1459.6);
svg.append("g").attr("clip-path","url(#sz)").selectAll("circle").data(sizeLegend).join("circle").attr("cx",2550).attr("cy",(d,i)=>lgY[i]).attr("r",d=>Math.max(3,rScale(d/100)-1)).attr("fill","#d6d6d6").attr("stroke","#b4b4b4").attr("stroke-width",3);
sizeLegend.forEach((v,i)=>T(svg,{t:d3.format(",")(v),x:2658.5,y:lgY[i],s:25,a:"end",c:"#555",k:.9}));
T(svg,{t:"@jianhaosoh",x:2529,y:1494.5,s:23,i:1,c:"#777",w:134});
</script></body></html>
